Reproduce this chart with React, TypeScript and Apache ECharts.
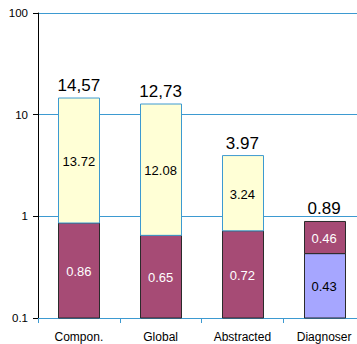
import React, { useEffect, useRef } from "react";
import * as echarts from "echarts";

const categories = ["Compon.", "Global", "Abstracted", "Diagnoser"];
const lowerValues = [0.86, 0.65, 0.72, 0.43];
const upperValues = [13.72, 12.08, 3.24, 0.46];
const totalLabels = ["14,57", "12,73", "3.97", "0.89"];
const axisMin = 0.1;
const axisMax = 100;

const MAROON = "#A64B75";
const YELLOW = "#FFFFD6";
const LAVENDER = "#A6A6FF";
const BLUE = "#3D9AD1";
const DARK = "#2b2b2b";
const FONT = "'Liberation Sans', Arial, sans-serif";

const lowerStyle = (i: number) =>
  i === 3
    ? { fill: LAVENDER, stroke: DARK, text: "#000" }
    : { fill: MAROON, stroke: DARK, text: "#fff" };
const upperStyle = (i: number) =>
  i === 3
    ? { fill: MAROON, stroke: DARK, text: "#fff" }
    : { fill: YELLOW, stroke: BLUE, text: "#000" };

export default function App() {
  const ref = useRef<HTMLDivElement>(null);
  useEffect(() => {
    if (!ref.current) return;
    const chart = echarts.init(ref.current, null, { renderer: "svg" });

    const lowerData = categories.map((_, i) => [i, axisMin, lowerValues[i], lowerValues[i]]);
    const upperData = categories.map((_, i) => [
      i,
      lowerValues[i],
      lowerValues[i] + upperValues[i],
      upperValues[i],
    ]);

    const makeRender = (isUpper: boolean) => (params: any, api: any) => {
      const i = api.value(0);
      const lo = api.value(1);
      const hi = api.value(2);
      const v = api.value(3);
      const pTop = api.coord([i, hi]);
      const pBot = api.coord([i, lo]);
      const w = api.size([1, 0])[0] * 0.5;
      const st = isUpper ? upperStyle(i) : lowerStyle(i);
      const cx = pTop[0];
      const children: any[] = [
        {
          type: "rect",
          shape: { x: Math.round(cx - w / 2) + 0.5, y: pTop[1], width: Math.round(w), height: pBot[1] - pTop[1] },
          style: { fill: st.fill, stroke: st.stroke, lineWidth: 1 },
        },
        {
          type: "text",
          style: {
            text: String(v),
            x: cx,
            y: (pTop[1] + pBot[1]) / 2 + 1,
            align: "center",
            verticalAlign: "middle",
            fill: st.text,
            font: `13px ${FONT}`,
          },
        },
      ];
      if (isUpper) {
        children.push({
          type: "text",
          style: {
            text: totalLabels[i],
            x: cx,
            y: pTop[1] - 4,
            align: "center",
            verticalAlign: "bottom",
            fill: "#000",
            font: `17px ${FONT}`,
          },
        });
      }
      return { type: "group", children };
    };

    chart.setOption({
      animation: false,
      textStyle: { fontFamily: FONT },
      grid: { left: 38, right: 0, top: 13, bottom: 26, containLabel: false },
      xAxis: {
        type: "category",
        data: categories,
        boundaryGap: true,
        axisLine: { show: true, lineStyle: { color: BLUE, width: 1 } },
        axisTick: { show: true, length: 5, lineStyle: { color: BLUE } },
        axisLabel: { color: "#000", fontSize: 12, margin: 13, fontFamily: FONT },
        splitLine: { show: false },
      },
      yAxis: {
        type: "log",
        logBase: 10,
        min: axisMin,
        max: axisMax,
        axisLine: { show: true, lineStyle: { color: "#000", width: 1 } },
        axisTick: { show: true, length: 5, lineStyle: { color: "#000" } },
        axisLabel: { color: "#000", fontSize: 11.5, margin: 10, fontFamily: FONT },
        splitLine: { show: true, lineStyle: { color: BLUE, width: 1 } },
        minorTick: { show: false },
      },
      series: [
        {
          type: "custom",
          name: "lower",
          data: lowerData,
          renderItem: makeRender(false),
          encode: { x: 0, y: [1, 2] },
        },
        {
          type: "custom",
          name: "upper",
          data: upperData,
          renderItem: makeRender(true),
          encode: { x: 0, y: [1, 2] },
        },
      ],
    });
    return () => chart.dispose();
  }, []);
  return (
    <div style={{ position: "fixed", left: 0, top: 0, width: 357, height: 344, overflow: "hidden", background: "#fff" }}>
      <div ref={ref} style={{ width: 365, height: 344 }} />
    </div>
  );
}
